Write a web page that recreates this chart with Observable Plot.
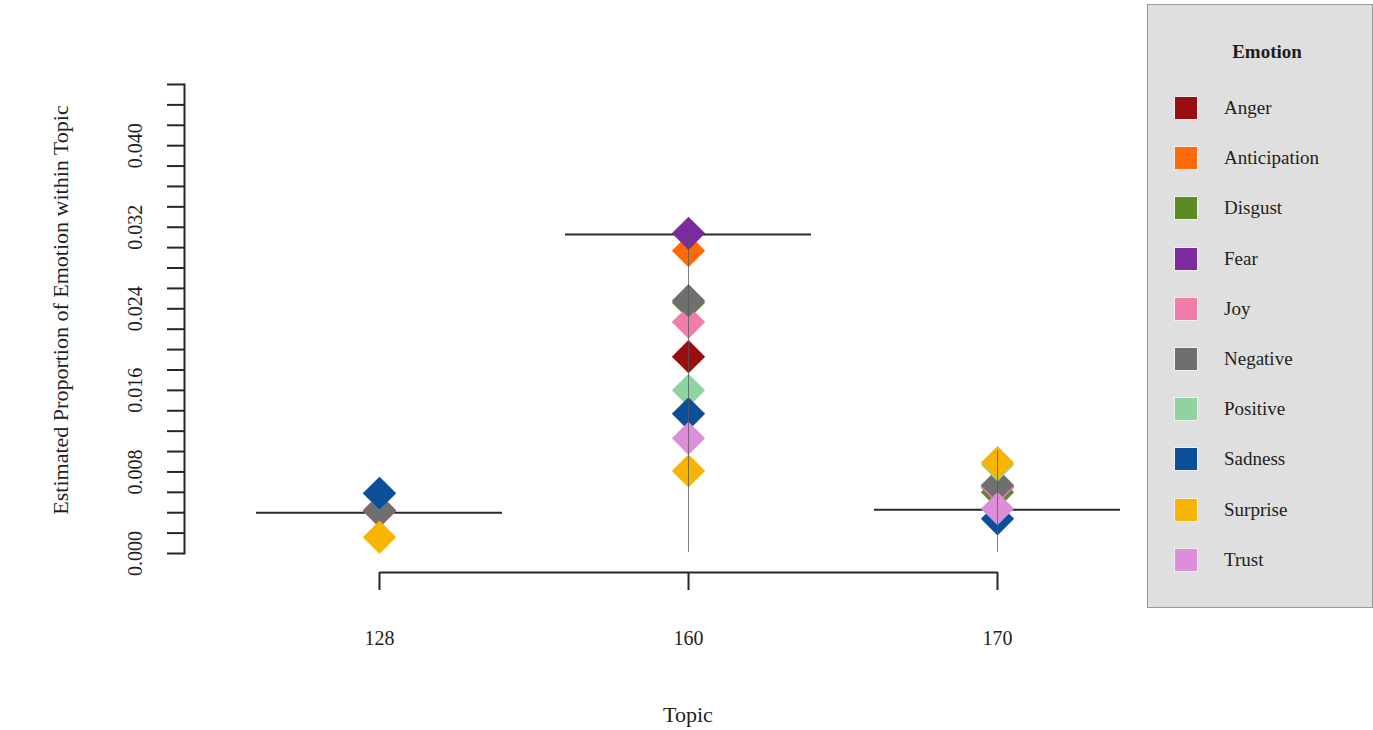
<!DOCTYPE html>
<html>
<head>
<meta charset="utf-8">
<script src="https://cdn.jsdelivr.net/npm/d3@7"></script>
<script src="https://cdn.jsdelivr.net/npm/@observablehq/plot@0.6"></script>
<style>
  body { margin: 0; background: #ffffff; font-family: "Liberation Serif", "Times New Roman", serif; }
  #wrap { position: relative; width: 1373px; height: 730px; overflow: hidden; }
  #chart { position: absolute; left: 0; top: 0; }
  #legend { position: absolute; left: 1147px; top: 4px; width: 226px; height: 604px;
            background: #dfdfdf; border: 1px solid #9a9a9a; box-sizing: border-box; color: #1e1e1e; }
  #legend .title { position: absolute; left: 0; width: 238px; text-align: center; top: 36px;
                   line-height: 22px; font-size: 19px; font-weight: bold; }
  #legend .sw { position: absolute; left: 27px; width: 22px; height: 22px;
                box-shadow: 0 0 0 1px rgba(255,255,255,0.55); }
  #legend .lb { position: absolute; left: 76px; line-height: 22px; font-size: 19px; white-space: nowrap; }
</style>
</head>
<body>
<div id="wrap"><div id="chart"></div><div id="legend"></div></div>
<script>
// ---- data ----
const topics = ["128", "160", "170"];
const emotions = ["Anger", "Anticipation", "Disgust", "Fear", "Joy", "Negative", "Positive", "Sadness", "Surprise", "Trust"];
const colors = ["#990f10", "#ff6a08", "#5b8c23", "#7a2c9e", "#f17caa", "#6f6f6f", "#8fd3a0", "#0b4f9b", "#f7b400", "#dc8fd8"];

// estimated proportion per emotion, for topics 128, 160, 170
const anger        = [0.0042, 0.0193, 0.0065];
const anticipation = [0.0042, 0.0297, 0.0065];
const disgust      = [0.0042, 0.0246, 0.0060];
const fear         = [0.0042, 0.0314, 0.0065];
const joy          = [0.0042, 0.0227, 0.0065];
const negative     = [0.0042, 0.0248, 0.0067];
const positive     = [0.0059, 0.0160, 0.0087];
const sadness      = [0.0059, 0.0137, 0.0034];
const surprise     = [0.0016, 0.0081, 0.0089];
const trust        = [null,   0.0113, 0.0044];
const series = [anger, anticipation, disgust, fear, joy, negative, positive, sadness, surprise, trust];

// horizontal reference line per topic
const hline = [0.0040, 0.0313, 0.0043];
// vertical range lines (visible ones)
const rangeTopics = ["160", "170"];
const vLow  = [0.0001, 0.0001];
const vHigh = [0.0313, 0.0101];

// axes
const yMinorTicks = d3.range(24).map(i => +(i * 0.002).toFixed(3));
const yTickValues = [0, 0.008, 0.016, 0.024, 0.032, 0.040];
const yTickLabels = ["0.000", "0.008", "0.016", "0.024", "0.032", "0.040"];
const yTitle = "Estimated Proportion of Emotion within Topic";
const xTitle = "Topic";
const legendTitle = "Emotion";

// ---- build ----
const data = [];
emotions.forEach((e, j) => topics.forEach((t, i) => {
  const v = series[j][i];
  if (v != null) data.push({topic: t, emotion: e, value: v});
}));

const ink = "#262626";
const plot = Plot.plot({
  width: 1373,
  height: 730,
  marginLeft: 184,
  marginRight: 182,
  marginTop: 84,
  marginBottom: 177,
  style: {fontFamily: "'Liberation Serif', 'Times New Roman', serif", fontSize: "20px", color: "#1e1e1e", background: "transparent"},
  x: {type: "band", domain: topics, paddingInner: 0.205, paddingOuter: 0.229, label: null},
  y: {domain: [0, 0.046], label: null},
  color: {domain: emotions, range: colors},
  marks: [
    Plot.frame({anchor: "left", stroke: ink, strokeWidth: 2}),
    Plot.axisY({ticks: yMinorTicks, tickSize: 17, tickFormat: () => "", stroke: ink, strokeWidth: 2, label: null}),
    Plot.text(yTickValues, {y: d => d, text: (d, i) => yTickLabels[i], frameAnchor: "left", textAnchor: "middle", rotate: -90, dx: -49, fontSize: 20, fill: "#1e1e1e"}),
    Plot.text([yTitle], {text: d => d, frameAnchor: "left", textAnchor: "middle", rotate: -90, dx: -124, dy: -9, fontSize: 22, fill: "#1e1e1e"}),
    Plot.axisX({tickSize: 18, dy: 19, tickPadding: 40, fontSize: 20, stroke: ink, strokeWidth: 2, label: null}),
    Plot.link([0], {x1: () => topics[0], x2: () => topics[topics.length - 1], y1: () => 0, y2: () => 0, dy: 19, stroke: ink, strokeWidth: 2}),
    Plot.text([xTitle], {text: d => d, frameAnchor: "bottom", dy: 168, fontSize: 22, fill: "#1e1e1e"}),
    Plot.tickY(topics, {x: d => d, y: (d, i) => hline[i], stroke: "#2b2b2b", strokeWidth: 2}),
    Plot.dot(data, {x: "topic", y: "value", fill: "emotion", symbol: "diamond2", r: 15}),
    Plot.ruleX(rangeTopics, {x: d => d, y1: (d, i) => vLow[i], y2: (d, i) => vHigh[i], stroke: "#555", strokeWidth: 1, strokeOpacity: 0.75})
  ]
});
document.getElementById("chart").appendChild(plot);

// legend built from the emotion and colour arrays
const legend = document.getElementById("legend");
const t = document.createElement("div");
t.className = "title";
t.textContent = legendTitle;
legend.appendChild(t);
emotions.forEach((e, i) => {
  const top = 92 + i * 50.2;
  const sw = document.createElement("div");
  sw.className = "sw";
  sw.style.top = top + "px";
  sw.style.background = colors[i];
  legend.appendChild(sw);
  const lb = document.createElement("div");
  lb.className = "lb";
  lb.style.top = top + "px";
  lb.textContent = e;
  legend.appendChild(lb);
});
</script>
</body>
</html>
